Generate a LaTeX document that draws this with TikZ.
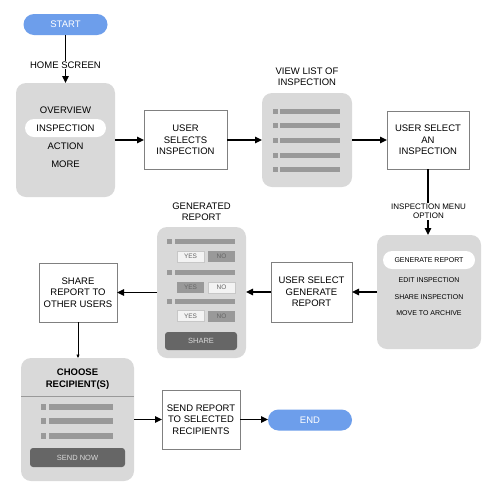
\documentclass[tikz,border=0pt]{standalone}
\usepackage{fontspec}
\setmainfont{Liberation Sans}
\usetikzlibrary{arrows.meta}
\definecolor{pillblue}{HTML}{6D9EEB}
\definecolor{panel}{HTML}{D9D9D9}
\definecolor{barc}{HTML}{999999}
\definecolor{btn}{HTML}{666666}
\definecolor{boxline}{HTML}{808080}
\definecolor{lightbtn}{HTML}{F3F3F3}
\definecolor{smalltext}{HTML}{666666}
\begin{document}
\begin{tikzpicture}[x=1pt,y=-1pt,
  every node/.style={inner sep=0pt, outer sep=0pt, align=center, font=\fontsize{9.5}{11.5}\selectfont},
  pill/.style={fill=pillblue, rounded corners=10.5pt, text=white, minimum width=84pt, minimum height=21pt},
  panelbox/.style={fill=panel, rounded corners=10pt},
  stepbox/.style={draw=boxline, fill=white, line width=0.8pt},
  lbl/.style={fill=white, inner sep=1pt},
  menutxt/.style={font=\fontsize{7}{8}\selectfont},
  conn/.style={line width=1.4pt, -{Triangle[length=7pt,width=6.5pt]}},
  thinconn/.style={line width=0.6pt, -{Triangle[length=3.5pt,width=3pt]}},
  barsq/.style={fill=barc},
  yesno/.style={minimum width=27pt, minimum height=11pt, font=\fontsize{6.5}{7}\selectfont, text=smalltext},
  yeslight/.style={yesno, fill=lightbtn, draw=panel!80!gray, line width=0.3pt},
  yesdark/.style={yesno, fill=barc},
  button/.style={fill=btn, rounded corners=3pt, text=panel, font=\fontsize{7.5}{8}\selectfont}
]
\useasboundingbox[fill=white] (0,0) rectangle (500,496);

% ---- start ----
\node[pill] (start) at (65.5,24.5) {START};

% ---- home panel ----
\node[panelbox, minimum width=99pt, minimum height=114pt] (home) at (65.5,140) {};
\node (hov) at (65.5,110) {OVERVIEW};
\node[fill=white, rounded corners=9pt, minimum width=81pt, minimum height=18pt] (hins) at (65.5,128) {INSPECTION};
\node (hact) at (65.5,146) {ACTION};
\node (hmore) at (65.5,164) {MORE};

% ---- user selects ----
\node[stepbox, minimum width=83pt, minimum height=59pt] (usel) at (185.5,140) {USER\\SELECTS\\INSPECTION};

% ---- view list ----
\node[panelbox, minimum width=90pt, minimum height=94pt] (vlist) at (307,140) {};
\node (vlbl) at (307,76.5) {VIEW LIST OF\\INSPECTION};
\foreach \yy in {111,125,140,155,169}{
  \fill[barsq] (273,\yy-2.5) rectangle (277.5,\yy+2.5);
  \fill[barsq] (280,\yy-2.5) rectangle (340,\yy+2.5);
}

% ---- user select an inspection ----
\node[stepbox, minimum width=82pt, minimum height=58pt] (selan) at (428,140) {USER SELECT\\AN\\INSPECTION};

% ---- menu panel ----
\node[panelbox, minimum width=104pt, minimum height=114pt] (menu) at (429,292) {};
\node[fill=white, rounded corners=9pt, minimum width=92pt, minimum height=18pt, menutxt] (mgen) at (429,260) {GENERATE REPORT};
\node[menutxt] (medit) at (429,280) {EDIT INSPECTION};
\node[menutxt] (mshare) at (429,297) {SHARE INSPECTION};
\node[menutxt] (march) at (429,313) {MOVE TO ARCHIVE};

% ---- user select generate report ----
\node[stepbox, minimum width=81pt, minimum height=60pt] (ugr) at (311.5,292) {USER SELECT\\GENERATE\\REPORT};

% ---- generated report panel ----
\node[panelbox, minimum width=89pt, minimum height=131pt] (report) at (201.5,292.5) {};
\node (rlbl) at (201.5,211.5) {GENERATED\\REPORT};
\foreach \yy in {241.5,272,301}{
  \fill[barsq] (167,\yy-2.5) rectangle (172,\yy+2.5);
  \fill[barsq] (175,\yy-2.5) rectangle (235,\yy+2.5);
}
\node[yeslight] (y1) at (190.5,256.5) {YES};
\node[yesdark]  (n1) at (221.5,256.5) {NO};
\node[yesdark]  (y2) at (190.5,287.5) {YES};
\node[yeslight] (n2) at (221.5,287.5) {NO};
\node[yeslight] (y3) at (190.5,316) {YES};
\node[yesdark]  (n3) at (221.5,316) {NO};
\node[button, minimum width=72pt, minimum height=18pt] (rshare) at (201,341) {SHARE};

% ---- share report ----
\node[stepbox, minimum width=78pt, minimum height=59pt] (share) at (78,292.5) {SHARE\\REPORT TO\\OTHER USERS};

% ---- choose recipients ----
\node[panelbox, minimum width=113pt, minimum height=123pt] (choose) at (77.5,419.5) {};
\node[font=\fontsize{9.5}{11.5}\selectfont\bfseries] (ctitle) at (77.5,379) {CHOOSE\\RECIPIENT(S)};
\draw[draw=barc, line width=0.6pt] (choose.west |- 0,396) -- (choose.east |- 0,396);
\foreach \yy in {407,421,436}{
  \fill[barsq] (41,\yy-3) rectangle (46,\yy+3);
  \fill[barsq] (49,\yy-3) rectangle (113,\yy+3);
}
\node[button, minimum width=95pt, minimum height=19pt] (csend) at (77.5,457.5) {SEND NOW};

% ---- send report ----
\node[stepbox, minimum width=78pt, minimum height=59pt] (send) at (201,419.5) {SEND REPORT\\TO SELECTED\\RECIPIENTS};

% ---- end ----
\node[pill] (end) at (310,420) {END};

% ---- connectors ----
\draw[conn] (start) -- (home);
\node[lbl] (lhome) at (65.5,65) {HOME SCREEN};
\draw[conn] (home.east |- usel) -- (usel.west);
\draw[conn] (usel.east) -- (usel.east -| vlist.west);
\draw[conn] (vlist.east) -- (vlist.east -| selan.west);
\draw[conn] (selan.south) -- (selan.south |- menu.north);
\node[lbl, font=\fontsize{8}{9}\selectfont] (lmenu) at (428.5,211.5) {INSPECTION MENU\\OPTION};
\draw[conn] (menu.west) -- (menu.west -| ugr.east);
\draw[conn] (ugr.west) -- (ugr.west -| report.east);
\draw[conn] (report.west) -- (report.west -| share.east);
\draw[thinconn] (share.south) -- (share.south |- choose.north);
\draw[conn] (choose.east |- send) -- (send.west);
\draw[conn] (send.east) -- (send.east -| end.west);
\end{tikzpicture}
\end{document}
